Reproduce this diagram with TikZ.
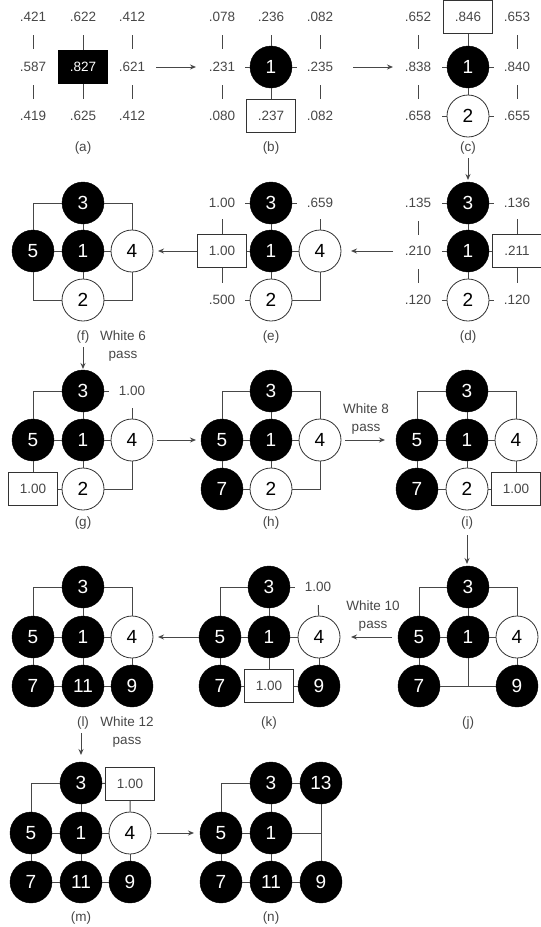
\documentclass[tikz,border=0pt]{standalone}
\usepackage{fontspec}
\setmainfont{Liberation Sans}
\usetikzlibrary{arrows.meta,calc}
\tikzset{
  lab/.style={font=\fontsize{13.5}{18}\selectfont, text=black!72, inner sep=0pt},
  capt/.style={lab},
  note/.style={lab, align=center},
  bs/.style={circle, fill=black, draw=black, minimum size=42pt, inner sep=0pt, text=white, font=\fontsize{19}{20}\selectfont},
  ws/.style={circle, fill=white, draw=black!80, line width=0.8pt, minimum size=42pt, inner sep=0pt, text=black, font=\fontsize{19}{20}\selectfont},
  bx/.style={rectangle, fill=white, draw=black!80, line width=0.8pt, minimum width=49pt, minimum height=33pt, inner sep=0pt, font=\fontsize{13.5}{15}\selectfont, text=black!72},
  bxb/.style={bx, fill=black, draw=black, text=white},
  ln/.style={draw=black!72, line width=1pt},
  arr/.style={ln, -{Stealth[length=6pt,width=5pt]}}
}
% vertical tick between two label nodes
\newcommand\vtk[2]{\draw[ln] ($(#1)!18pt!(#2)$) -- ($(#1)!32pt!(#2)$);}
% tick from a stone/box toward a label (vertical)
\newcommand\stk[2]{\draw[ln] (#1) -- ($(#1)!32pt!(#2)$);}
% short stub from a stone toward a label (horizontal)
\newcommand\hsk[2]{\draw[ln] (#1) -- ($(#1)!26pt!(#2)$);}
\begin{document}
\begin{tikzpicture}[x=1pt,y=-1pt]
\useasboundingbox (0,0) rectangle (541,927);

% ---------- (a) ----------
\node[lab] (a11) at (33,17) {.421};
\node[lab] (a12) at (83,17) {.622};
\node[lab] (a13) at (132,17) {.412};
\node[lab] (a21) at (33,67) {.587};
\node[bxb] (a22) at (83,67) {.827};
\node[lab] (a23) at (132,67) {.621};
\node[lab] (a31) at (33,116) {.419};
\node[lab] (a32) at (83,116) {.625};
\node[lab] (a33) at (132,116) {.412};
\node[capt] (capa) at (83,148) {(a)};
\vtk{a11}{a21}\vtk{a21}{a31}\vtk{a13}{a23}\vtk{a23}{a33}
\stk{a22}{a12}\stk{a22}{a32}

% ---------- (b) ----------
\node[lab] (b11) at (222,17) {.078};
\node[lab] (b12) at (271,17) {.236};
\node[lab] (b13) at (320,17) {.082};
\node[lab] (b21) at (222,67) {.231};
\node[bs] (b22) at (271,67) {1};
\node[lab] (b23) at (320,67) {.235};
\node[lab] (b31) at (222,116) {.080};
\node[bx] (b32) at (271,116) {.237};
\node[lab] (b33) at (320,116) {.082};
\node[capt] (capb) at (271,148) {(b)};
\vtk{b11}{b21}\vtk{b21}{b31}\vtk{b13}{b23}\vtk{b23}{b33}
\stk{b22}{b12}\draw[ln] (b22) -- (b32);
\hsk{b22}{b21}\hsk{b22}{b23}

% ---------- (c) ----------
\node[lab] (c11) at (418,17) {.652};
\node[bx] (c12) at (468,17) {.846};
\node[lab] (c13) at (517,17) {.653};
\node[lab] (c21) at (418,67) {.838};
\node[bs] (c22) at (468,67) {1};
\node[lab] (c23) at (517,67) {.840};
\node[lab] (c31) at (418,116) {.658};
\node[ws] (c32) at (468,116) {2};
\node[lab] (c33) at (517,116) {.655};
\node[capt] (capc) at (468,148) {(c)};
\vtk{c11}{c21}\vtk{c21}{c31}\vtk{c13}{c23}\vtk{c23}{c33}
\draw[ln] (c12) -- (c22) (c22) -- (c32);
\hsk{c22}{c21}\hsk{c22}{c23}\hsk{c32}{c31}\hsk{c32}{c33}

% ---------- (d) ----------
\node[lab] (d11) at (418,203) {.135};
\node[bs] (d12) at (468,203) {3};
\node[lab] (d13) at (517,203) {.136};
\node[lab] (d21) at (418,251) {.210};
\node[bs] (d22) at (468,251) {1};
\node[bx] (d23) at (517,251) {.211};
\node[lab] (d31) at (418,300) {.120};
\node[ws] (d32) at (468,300) {2};
\node[lab] (d33) at (517,300) {.120};
\node[capt] (capd) at (468,337) {(d)};
\draw[ln] (d12) -- (d22) (d22) -- (d32) (d22) -- (d23);
\vtk{d11}{d21}\vtk{d21}{d31}
\stk{d23}{d13}\stk{d23}{d33}
\hsk{d12}{d11}\hsk{d12}{d13}\hsk{d22}{d21}\hsk{d32}{d31}\hsk{d32}{d33}

% ---------- (e) ----------
\node[lab] (e11) at (222,203) {1.00};
\node[bs] (e12) at (271,203) {3};
\node[lab] (e13) at (320,203) {.659};
\node[bx] (e21) at (222,251) {1.00};
\node[bs] (e22) at (271,251) {1};
\node[ws] (e23) at (320,251) {4};
\node[lab] (e31) at (222,300) {.500};
\node[ws] (e32) at (271,300) {2};
\node[capt] (cape) at (271,337) {(e)};
\draw[ln] (e12) -- (e22) (e22) -- (e32) (e21) -- (e22) (e22) -- (e23);
\draw[ln] (e32) -| (e23);
\stk{e21}{e11}\stk{e21}{e31}\stk{e23}{e13}
\hsk{e12}{e11}\hsk{e12}{e13}\hsk{e32}{e31}

% ---------- (f) ----------
\node[bs] (f12) at (83,203) {3};
\node[bs] (f21) at (33,251) {5};
\node[bs] (f22) at (83,251) {1};
\node[ws] (f23) at (132,251) {4};
\node[ws] (f32) at (83,300) {2};
\node[capt] (capf) at (83,337) {(f)};
\node[note] (notef) at (123,346) {White 6\\pass};
\draw[ln] (f12) -| (f21); \draw[ln] (f12) -| (f23);
\draw[ln] (f32) -| (f21); \draw[ln] (f32) -| (f23);
\draw[ln] (f22) -- (f12) (f22) -- (f21) (f22) -- (f23) (f22) -- (f32);

% ---------- (g) ----------
\node[bs] (g12) at (83,391) {3};
\node[lab] (g13) at (132,391) {1.00};
\node[bs] (g21) at (33,440) {5};
\node[bs] (g22) at (83,440) {1};
\node[ws] (g23) at (132,440) {4};
\node[bx] (g31) at (33,489) {1.00};
\node[ws] (g32) at (83,489) {2};
\node[capt] (capg) at (83,523) {(g)};
\draw[ln] (g12) -| (g21);
\hsk{g12}{g13}\stk{g23}{g13}
\draw[ln] (g21) -- (g31) (g31) -- (g32);
\draw[ln] (g32) -| (g23);
\draw[ln] (g22) -- (g12) (g22) -- (g21) (g22) -- (g23) (g22) -- (g32);

% ---------- (h) ----------
\node[bs] (h12) at (271,391) {3};
\node[bs] (h21) at (222,440) {5};
\node[bs] (h22) at (271,440) {1};
\node[ws] (h23) at (320,440) {4};
\node[bs] (h31) at (222,489) {7};
\node[ws] (h32) at (271,489) {2};
\node[capt] (caph) at (271,523) {(h)};
\node[note] (noteh) at (366,419) {White 8\\pass};
\draw[ln] (h12) -| (h21); \draw[ln] (h12) -| (h23);
\draw[ln] (h32) -| (h23);
\draw[ln] (h21) -- (h31) (h31) -- (h32);
\draw[ln] (h22) -- (h12) (h22) -- (h21) (h22) -- (h23) (h22) -- (h32);

% ---------- (i) ----------
\node[bs] (i12) at (467,391) {3};
\node[bs] (i21) at (417,440) {5};
\node[bs] (i22) at (467,440) {1};
\node[ws] (i23) at (516,440) {4};
\node[bs] (i31) at (417,489) {7};
\node[ws] (i32) at (467,489) {2};
\node[bx] (i33) at (516,489) {1.00};
\node[capt] (capi) at (467,523) {(i)};
\draw[ln] (i12) -| (i21); \draw[ln] (i12) -| (i23);
\draw[ln] (i23) -- (i33) (i32) -- (i33);
\draw[ln] (i21) -- (i31) (i31) -- (i32);
\draw[ln] (i22) -- (i12) (i22) -- (i21) (i22) -- (i23) (i22) -- (i32);

% ---------- (j) ----------
\node[bs] (j12) at (468,587) {3};
\node[bs] (j21) at (419,637) {5};
\node[bs] (j22) at (468,637) {1};
\node[ws] (j23) at (517,637) {4};
\node[bs] (j31) at (419,686) {7};
\node[bs] (j33) at (517,686) {9};
\node[capt] (capj) at (468,723) {(j)};
\node[note] (notej) at (373,616) {White 10\\pass};
\draw[ln] (j12) -| (j21); \draw[ln] (j12) -| (j23);
\draw[ln] (j21) -- (j31) (j23) -- (j33) (j31) -- (j33);
\draw[ln] (j22) -- (j22 |- j31);
\draw[ln] (j22) -- (j12) (j22) -- (j21) (j22) -- (j23);

% ---------- (k) ----------
\node[bs] (k12) at (269,587) {3};
\node[lab] (k13) at (318,587) {1.00};
\node[bs] (k21) at (220,637) {5};
\node[bs] (k22) at (269,637) {1};
\node[ws] (k23) at (319,637) {4};
\node[bs] (k31) at (220,686) {7};
\node[bx] (k32) at (269,686) {1.00};
\node[bs] (k33) at (319,686) {9};
\node[capt] (capk) at (269,723) {(k)};
\draw[ln] (k12) -| (k21);
\hsk{k12}{k13}\stk{k23}{k13}
\draw[ln] (k21) -- (k31) (k23) -- (k33) (k31) -- (k32) (k32) -- (k33) (k22) -- (k32);
\draw[ln] (k22) -- (k12) (k22) -- (k21) (k22) -- (k23);

% ---------- (l) ----------
\node[bs] (l12) at (83,587) {3};
\node[bs] (l21) at (33,637) {5};
\node[bs] (l22) at (83,637) {1};
\node[ws] (l23) at (132,637) {4};
\node[bs] (l31) at (33,686) {7};
\node[bs] (l32) at (83,686) {11};
\node[bs] (l33) at (132,686) {9};
\node[capt] (capl) at (83,723) {(l)};
\node[note] (notel) at (127,732) {White 12\\pass};
\draw[ln] (l12) -| (l21); \draw[ln] (l12) -| (l23);
\draw[ln] (l21) -- (l31) (l31) -- (l32) (l32) -- (l33) (l23) -- (l33) (l22) -- (l32);
\draw[ln] (l22) -- (l12) (l22) -- (l21) (l22) -- (l23);

% ---------- (m) ----------
\node[bs] (m12) at (81,783) {3};
\node[bx] (m13) at (130,784) {1.00};
\node[bs] (m21) at (31,833) {5};
\node[bs] (m22) at (81,833) {1};
\node[ws] (m23) at (130,833) {4};
\node[bs] (m31) at (31,882) {7};
\node[bs] (m32) at (81,882) {11};
\node[bs] (m33) at (130,882) {9};
\node[capt] (capm) at (81,918) {(m)};
\draw[ln] (m12) -| (m21);
\draw[ln] (m12) -- (m13) (m13) -- (m23);
\draw[ln] (m21) -- (m31) (m31) -- (m32) (m32) -- (m33) (m23) -- (m33) (m22) -- (m32);
\draw[ln] (m22) -- (m12) (m22) -- (m21) (m22) -- (m23);

% ---------- (n) ----------
\node[bs] (n12) at (271,783) {3};
\node[bs] (n13) at (321,783) {13};
\node[bs] (n21) at (221,833) {5};
\node[bs] (n22) at (271,833) {1};
\node[bs] (n31) at (221,882) {7};
\node[bs] (n32) at (271,882) {11};
\node[bs] (n33) at (321,882) {9};
\node[capt] (capn) at (271,918) {(n)};
\draw[ln] (n12) -| (n21);
\draw[ln] (n12) -- (n13) (n13) -- (n33);
\draw[ln] (n22) -- (n22 -| n13);
\draw[ln] (n21) -- (n31) (n31) -- (n32) (n32) -- (n33) (n22) -- (n32);
\draw[ln] (n22) -- (n12) (n22) -- (n21);

% ---------- arrows ----------
\coordinate (ab0) at (156,67);  \coordinate (ab1) at (196,67);
\coordinate (bc0) at (353,67);  \coordinate (bc1) at (393,67);
\coordinate (cd0) at (468,158); \coordinate (cd1) at (468,180);
\coordinate (de0) at (393,251); \coordinate (de1) at (351,251);
\coordinate (ef1) at (158,251);
\coordinate (fg0) at (83,347);  \coordinate (fg1) at (83,369);
\coordinate (gh0) at (157,440); \coordinate (gh1) at (196,440);
\coordinate (hi0) at (345,440); \coordinate (hi1) at (385,440);
\coordinate (ij0) at (467,535); \coordinate (ij1) at (467,564);
\coordinate (jk0) at (392,637); \coordinate (jk1) at (351,637);
\coordinate (kl1) at (158,637);
\coordinate (lm0) at (81,733);  \coordinate (lm1) at (81,755);
\coordinate (mn0) at (157,833); \coordinate (mn1) at (194,833);
\draw[arr] (ab0) -- (ab1);
\draw[arr] (bc0) -- (bc1);
\draw[arr] (cd0) -- (cd1);
\draw[arr] (de0) -- (de1);
\draw[arr] (e21) -- (ef1);
\draw[arr] (fg0) -- (fg1);
\draw[arr] (gh0) -- (gh1);
\draw[arr] (hi0) -- (hi1);
\draw[arr] (ij0) -- (ij1);
\draw[arr] (jk0) -- (jk1);
\draw[arr] (k21) -- (kl1);
\draw[arr] (lm0) -- (lm1);
\draw[arr] (mn0) -- (mn1);
\end{tikzpicture}
\end{document}
